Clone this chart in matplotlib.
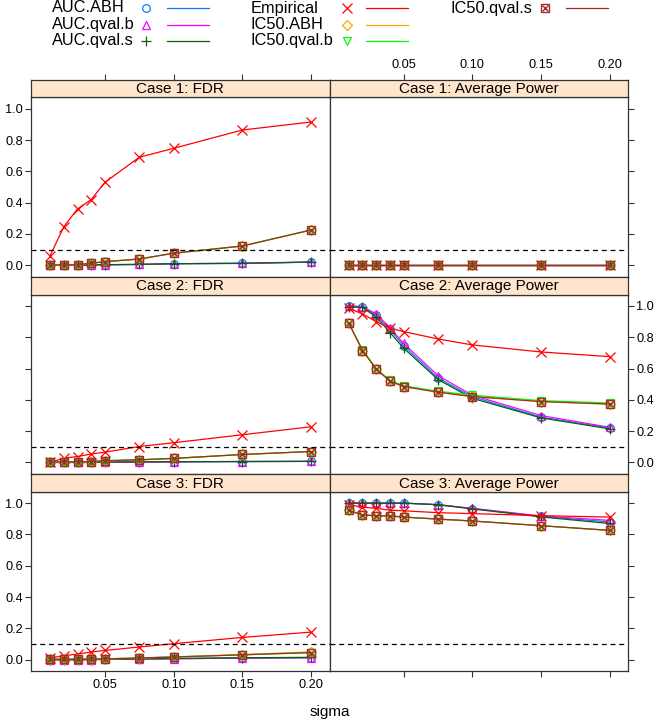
import numpy as np
import matplotlib
matplotlib.use("Agg")
from matplotlib import pyplot as plt

plt.rcParams['font.family'] = ['Liberation Sans', 'DejaVu Sans']

W, H = 659, 723

sigma = [0.01, 0.02, 0.03, 0.04, 0.05, 0.075, 0.10, 0.15, 0.20]

series_names = ["AUC.ABH", "AUC.qval.b", "AUC.qval.s", "Empirical",
                "IC50.ABH", "IC50.qval.b", "IC50.qval.s"]

# rows follow series_names
case1_fdr = [
    [0.0, 0.0, 0.0, 0.003, 0.003, 0.005, 0.010, 0.012, 0.020],
    [0.0, 0.0, 0.0, 0.003, 0.003, 0.005, 0.010, 0.012, 0.020],
    [0.0, 0.0, 0.0, 0.003, 0.004, 0.006, 0.010, 0.013, 0.021],
    [0.061, 0.246, 0.360, 0.420, 0.530, 0.690, 0.747, 0.864, 0.915],
    [0.0, 0.003, 0.003, 0.013, 0.023, 0.040, 0.077, 0.123, 0.225],
    [0.0, 0.003, 0.003, 0.013, 0.023, 0.040, 0.077, 0.123, 0.225],
    [0.0, 0.003, 0.003, 0.013, 0.023, 0.040, 0.077, 0.123, 0.225],
]
case1_power = [
    [0.0] * 9,
    [0.0] * 9,
    [0.0] * 9,
    [0.0] * 9,
    [0.0] * 9,
    [0.0] * 9,
    [0.0] * 9,
]
case2_fdr = [
    [0.0, 0.0, 0.0, 0.0, 0.001, 0.002, 0.004, 0.006, 0.007],
    [0.0, 0.0, 0.0, 0.0, 0.001, 0.002, 0.004, 0.006, 0.007],
    [0.0, 0.001, 0.001, 0.002, 0.003, 0.004, 0.005, 0.006, 0.007],
    [0.0, 0.028, 0.038, 0.054, 0.066, 0.102, 0.126, 0.177, 0.228],
    [0.003, 0.003, 0.004, 0.006, 0.011, 0.017, 0.026, 0.051, 0.070],
    [0.003, 0.003, 0.004, 0.006, 0.011, 0.017, 0.026, 0.051, 0.070],
    [0.003, 0.003, 0.004, 0.006, 0.011, 0.017, 0.026, 0.051, 0.070],
]
case2_power = [
    [1.0, 0.995, 0.940, 0.850, 0.745, 0.540, 0.420, 0.290, 0.220],
    [1.0, 0.995, 0.950, 0.860, 0.760, 0.555, 0.430, 0.300, 0.225],
    [0.995, 0.990, 0.930, 0.830, 0.730, 0.530, 0.410, 0.285, 0.215],
    [0.985, 0.949, 0.900, 0.858, 0.836, 0.789, 0.751, 0.706, 0.676],
    [0.890, 0.715, 0.596, 0.520, 0.485, 0.449, 0.421, 0.389, 0.373],
    [0.890, 0.720, 0.600, 0.525, 0.490, 0.455, 0.430, 0.395, 0.380],
    [0.890, 0.715, 0.596, 0.520, 0.485, 0.449, 0.421, 0.389, 0.373],
]
case3_fdr = [
    [0.0, 0.0, 0.0, 0.0, 0.002, 0.004, 0.006, 0.010, 0.012],
    [0.0, 0.0, 0.0, 0.0, 0.002, 0.004, 0.006, 0.010, 0.012],
    [0.0, 0.0, 0.0, 0.001, 0.002, 0.005, 0.008, 0.012, 0.015],
    [0.011, 0.025, 0.036, 0.049, 0.059, 0.081, 0.102, 0.142, 0.176],
    [0.003, 0.003, 0.003, 0.004, 0.005, 0.011, 0.018, 0.033, 0.050],
    [0.003, 0.003, 0.003, 0.004, 0.005, 0.011, 0.017, 0.031, 0.045],
    [0.003, 0.003, 0.003, 0.004, 0.005, 0.011, 0.017, 0.031, 0.045],
]
case3_power = [
    [1.0, 1.0, 1.0, 1.0, 1.0, 0.990, 0.965, 0.915, 0.880],
    [1.0, 1.0, 1.0, 1.0, 1.0, 0.990, 0.967, 0.918, 0.890],
    [1.0, 1.0, 1.0, 1.0, 1.0, 0.990, 0.963, 0.912, 0.870],
    [0.990, 0.975, 0.966, 0.955, 0.951, 0.939, 0.933, 0.920, 0.911],
    [0.954, 0.924, 0.920, 0.918, 0.911, 0.898, 0.886, 0.856, 0.826],
    [0.954, 0.924, 0.920, 0.918, 0.911, 0.898, 0.886, 0.856, 0.826],
    [0.954, 0.924, 0.920, 0.918, 0.911, 0.898, 0.886, 0.856, 0.826],
]

panels = [
    ("Case 1: FDR", case1_fdr), ("Case 1: Average Power", case1_power),
    ("Case 2: FDR", case2_fdr), ("Case 2: Average Power", case2_power),
    ("Case 3: FDR", case3_fdr), ("Case 3: Average Power", case3_power),
]

colors = ["#0080ff", "#ff00ff", "#006400", "#ff0000", "#ffa500", "#00ff00", "#a52a2a"]
markers = ["o", "^", "+", "x", "D", "v", "s"]
msizes = [5.5, 6, 7, 6.5, 5, 6, 5.5]

xlim = (-0.0039, 0.2137)
ylim = (-0.073, 1.073)
xticks = [0.05, 0.10, 0.15, 0.20]
yticks = [0.0, 0.2, 0.4, 0.6, 0.8, 1.0]

fs_big = 11.0
fs_key = 11.8
fs_tick = 9.2
frame_col = "#333333"


def box(x0, y0, x1, y1):
    return [x0 / W, 1 - y1 / H, (x1 - x0) / W, (y1 - y0) / H]


def draw_marker(ax, x, y, i):
    if markers[i] == "s":
        ax.plot(x, y, ls="none", marker="s", ms=msizes[i], mfc="none",
                mec=colors[i], mew=1.0)
        ax.plot(x, y, ls="none", marker="x", ms=msizes[i] * 0.7,
                mec=colors[i], mew=1.0)
    else:
        ax.plot(x, y, ls="none", marker=markers[i], ms=msizes[i], mfc="none",
                mec=colors[i], mew=0.9)


fig = plt.figure(figsize=(W / 100, H / 100), dpi=100)

col_x = [(31, 329.7), (329.7, 628.3)]
top0 = 79.5
strip_h = 17.8
panel_h = 179.4

for k, (title, data) in enumerate(panels):
    r, c = k // 2, k % 2
    x0, x1 = col_x[c]
    st = top0 + r * (strip_h + panel_h)
    pt = st + strip_h

    ax = fig.add_axes(box(x0, pt, x1, pt + panel_h))
    for i in range(len(series_names)):
        ax.plot(sigma, data[i], color=colors[i], lw=0.9)
        draw_marker(ax, sigma, data[i], i)
    ax.axhline(0.1, color="black", lw=0.9, ls=(0, (4, 3)))
    ax.set_xlim(*xlim)
    ax.set_ylim(*ylim)
    ax.set_xticks(xticks)
    ax.set_xticklabels(["0.05", "0.10", "0.15", "0.20"])
    ax.set_yticks(yticks)
    ax.set_yticklabels(["0.0", "0.2", "0.4", "0.6", "0.8", "1.0"])
    ax.tick_params(direction="out", length=4.3, width=0.8, color=frame_col,
                   labelsize=fs_tick, pad=1.5,
                   left=(c == 0), labelleft=(c == 0 and r != 1),
                   right=(c == 1), labelright=(c == 1 and r == 1),
                   bottom=(r == 2), labelbottom=(r == 2 and c == 0),
                   top=False, labeltop=False)
    for s in ax.spines.values():
        s.set_color(frame_col)
        s.set_linewidth(0.9)

    sax = fig.add_axes(box(x0, st, x1, pt))
    sax.set_facecolor("#ffe5cc")
    sax.set_xlim(*xlim)
    sax.set_xticks(xticks)
    sax.set_xticklabels(["0.05", "0.10", "0.15", "0.20"])
    sax.set_yticks([])
    sax.tick_params(direction="out", length=4.3, width=0.8, color=frame_col,
                    labelsize=fs_tick, pad=1.5,
                    bottom=False, labelbottom=False,
                    top=(r == 0), labeltop=(r == 0 and c == 1))
    for s in sax.spines.values():
        s.set_color(frame_col)
        s.set_linewidth(0.9)
    sax.text(0.5, 0.45, title, transform=sax.transAxes, ha="center",
             va="center", fontsize=fs_big)

fig.text(329.7 / W, 1 - 712 / H, "sigma", ha="center", va="center",
         fontsize=fs_big)

# key on top, three columns
lax = fig.add_axes([0, 0, 1, 1])
lax.set_xlim(0, W)
lax.set_ylim(H, 0)
lax.axis("off")
key_text_x = [51.7, 251, 450]
key_sym_x = [146, 347, 545]
key_line_x = [(167, 209), (366, 408), (566, 608)]
key_row_y = [8, 24.5, 41]
for i, name in enumerate(series_names):
    cc, rr = i // 3, i % 3
    y = key_row_y[rr]
    lax.text(key_text_x[cc], y, name, ha="left", va="center", fontsize=fs_key)
    draw_marker(lax, [key_sym_x[cc]], [y], i)
    lax.plot(key_line_x[cc], [y, y], color=colors[i], lw=0.9)

fig.savefig("out.png", dpi=100)
